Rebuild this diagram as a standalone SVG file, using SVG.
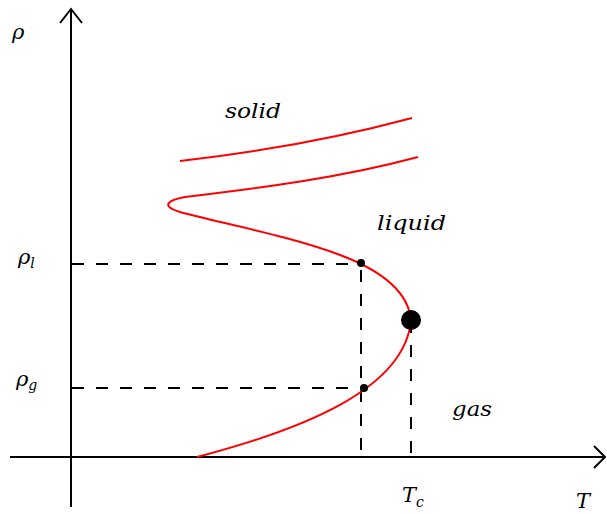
<svg xmlns="http://www.w3.org/2000/svg" width="607" height="514" viewBox="0 0 607 514">
<style>
.ax{stroke:#000;stroke-width:2;fill:none}
.dash{stroke:#000;stroke-width:2;fill:none;stroke-dasharray:12,12}
.red{stroke:#f00;stroke-width:2;fill:none}
.lbl{font-family:"DejaVu Serif","Liberation Serif",serif;font-style:italic;font-size:21px;fill:#000}
.sub{font-size:14px}
</style>
<rect width="607" height="514" fill="#fff"/>
<g id="axes">
<line class="ax" x1="71" y1="9" x2="71" y2="507"/>
<polyline class="ax" points="60,23 71,9 82,23"/>
<line class="ax" x1="10" y1="457" x2="605" y2="457"/>
<polyline class="ax" points="594,446 605,457 594,468"/>
</g>
<g id="connectors">
<line class="dash" x1="72" y1="264" x2="361" y2="264"/>
<line class="dash" x1="361" y1="270" x2="361" y2="457"/>
<line class="dash" x1="72" y1="388" x2="364" y2="388"/>
<line class="dash" x1="411" y1="325" x2="411" y2="457" stroke-dashoffset="4"/>
</g>
<g id="curves">
<path class="red" d="M197,457 C300,430 405,390 411,320 C408,290 380,270 340,255 C290,236 220,223 180,212 C160,206 168,200 185,197 C260,188 340,178 418,157"/>
<path class="red" d="M180,161 C260,152 330,140 412,118"/>
</g>
<g id="points">
<circle cx="361" cy="263" r="4"/>
<circle cx="364" cy="388" r="4"/>
<circle cx="411" cy="320" r="10"/>
</g>
<g id="labels">
<text class="lbl" x="12" y="39">ρ</text>
<text class="lbl" x="18" y="264">ρ<tspan class="sub" dy="4">l</tspan></text>
<text class="lbl" x="16" y="386">ρ<tspan class="sub" dy="4">g</tspan></text>
<text class="lbl" x="225" y="118" textLength="56" lengthAdjust="spacingAndGlyphs">solid</text>
<text class="lbl" x="377" y="230" textLength="69" lengthAdjust="spacingAndGlyphs">liquid</text>
<text class="lbl" x="452" y="416" textLength="40" lengthAdjust="spacingAndGlyphs">gas</text>
<text class="lbl" x="402" y="502">T<tspan class="sub" dy="5">c</tspan></text>
<text class="lbl" x="576" y="508">T</text>
</g>
</svg>
